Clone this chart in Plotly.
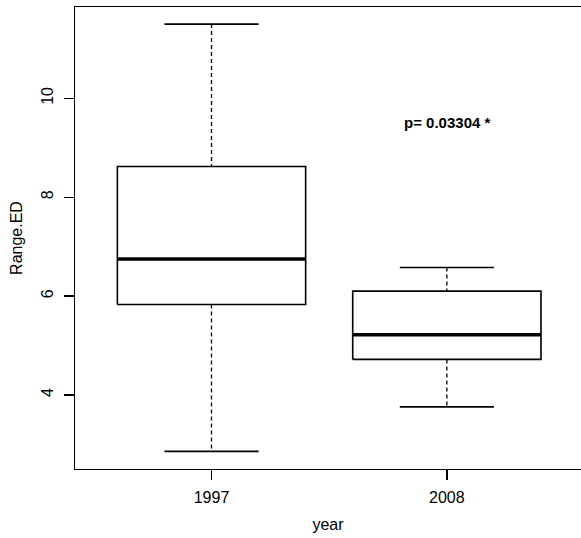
import plotly.graph_objects as go

# Data
categories = ["1997", "2008"]
whisker_low = [2.86, 3.76]
q1 = [5.83, 4.72]
median = [6.75, 5.22]
q3 = [8.62, 6.10]
whisker_high = [11.50, 6.58]
y_ticks = [4, 6, 8, 10]
p_label = "p= 0.03304 *"

BOX_HALF = 0.4
CAP_HALF = 0.2

fig = go.Figure()
positions = list(range(1, len(categories) + 1))

for i, pos in enumerate(positions):
    # dashed whiskers
    fig.add_trace(go.Scatter(
        x=[pos, pos, None, pos, pos],
        y=[whisker_high[i], q3[i], None, q1[i], whisker_low[i]],
        mode="lines", line=dict(color="black", width=1.3, dash="4px,3px"),
        hoverinfo="skip", showlegend=False, connectgaps=False))
    # caps
    fig.add_trace(go.Scatter(
        x=[pos - CAP_HALF, pos + CAP_HALF, None, pos - CAP_HALF, pos + CAP_HALF],
        y=[whisker_high[i], whisker_high[i], None, whisker_low[i], whisker_low[i]],
        mode="lines", line=dict(color="black", width=1.6),
        hoverinfo="skip", showlegend=False, connectgaps=False))
    # box
    fig.add_trace(go.Scatter(
        x=[pos - BOX_HALF, pos + BOX_HALF, pos + BOX_HALF, pos - BOX_HALF, pos - BOX_HALF],
        y=[q1[i], q1[i], q3[i], q3[i], q1[i]],
        mode="lines", line=dict(color="black", width=1.6),
        hoverinfo="skip", showlegend=False))
    # median
    fig.add_trace(go.Scatter(
        x=[pos - BOX_HALF, pos + BOX_HALF],
        y=[median[i], median[i]],
        mode="lines", line=dict(color="black", width=3.5),
        hoverinfo="skip", showlegend=False))

fig.add_annotation(x=2, y=9.51, text="<b>" + p_label + "</b>", showarrow=False,
                   font=dict(family="Liberation Sans Narrow, Arial Narrow, Liberation Sans", size=15, color="black"),
                   xanchor="center", yanchor="middle")

font = "Liberation Sans, Arial, sans-serif"
fig.update_layout(
    width=581, height=538,
    margin=dict(l=75, r=0, t=7, b=69),
    paper_bgcolor="white", plot_bgcolor="white",
    font=dict(family=font, size=16, color="black"),
    xaxis=dict(range=[0.42, 2.57], tickvals=positions, ticktext=categories,
               showline=True, linecolor="black", linewidth=1.3, mirror=True,
               ticks="outside", ticklen=10, tickwidth=1.3, tickcolor="black",
               ticklabelstandoff=3,
               showgrid=False, zeroline=False,
               title=dict(text="year", font=dict(size=16), standoff=14)),
    yaxis=dict(range=[2.504, 11.846], tickvals=y_ticks,
               showline=True, linecolor="black", linewidth=1.3, mirror=False,
               ticks="outside", ticklen=10, tickwidth=1.3, tickcolor="black",
               ticklabelstandoff=4,
               tickangle=-90, showgrid=False, zeroline=False,
               title=dict(text="Range.ED", font=dict(size=16), standoff=12)),
)

fig.write_html("out.html",
               config={"displayModeBar": False, "staticPlot": True},
               post_script="document.body.style.margin='0';document.body.style.overflow='hidden';")
